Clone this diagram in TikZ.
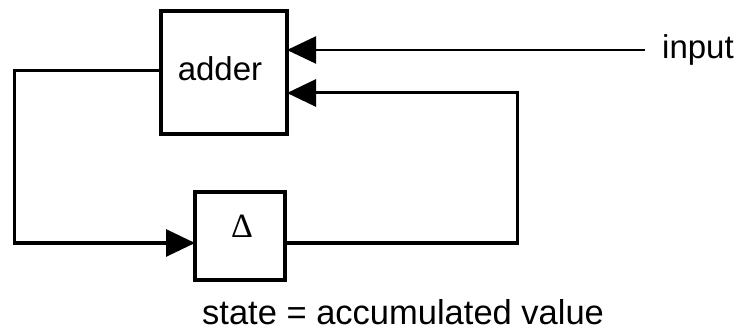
\documentclass[tikz,border=0pt]{standalone}
\usepackage{fontspec}
\setmainfont{Liberation Sans}
\newfontfamily\deltafont{Liberation Serif}
\usetikzlibrary{arrows.meta}
\begin{document}
\begin{tikzpicture}[x=1pt,y=-1pt,
  blockbox/.style={draw,line width=4pt,inner sep=0pt,outer sep=0pt},
  wire/.style={line width=3pt},
  arr/.style={wire,-{Triangle[length=29pt,width=27pt]}},
  txt/.style={font=\fontsize{33}{40}\selectfont,inner sep=0pt}]
\useasboundingbox (0,0) rectangle (737,334);
\node[blockbox,minimum width=126pt,minimum height=123pt] (adder) at (224,72.5) {};
\node[txt,anchor=base] (addertxt) at (220,81) {adder};
\node[blockbox,minimum width=90pt,minimum height=88pt] (delta) at (240,236) {};
\node[inner sep=0pt,anchor=base] (deltatxt) at (242,237) {\fontsize{34}{40}\deltafont Δ};
\node[txt,anchor=base west] (input) at (662,59) {input};
\node[txt,anchor=base west,font=\fontsize{34.5}{40}\selectfont] (state) at (202,324) {state = accumulated value};
\coordinate (inend) at (645,50);
\coordinate (rt) at (517,93);
\coordinate (lt) at (14,71);
\coordinate (ly) at (0,243);
% input arrow
\draw[line width=2.2pt,-{Triangle[length=29pt,width=27pt]}] (inend) -- (inend -| adder.east);
% feedback from delta to adder
\draw[arr] (delta.east |- ly) -| (rt) -- (rt -| adder.east);
% adder to delta
\draw[arr] (lt -| adder.west) -- (lt) |- (delta.west |- ly);
\end{tikzpicture}
\end{document}
